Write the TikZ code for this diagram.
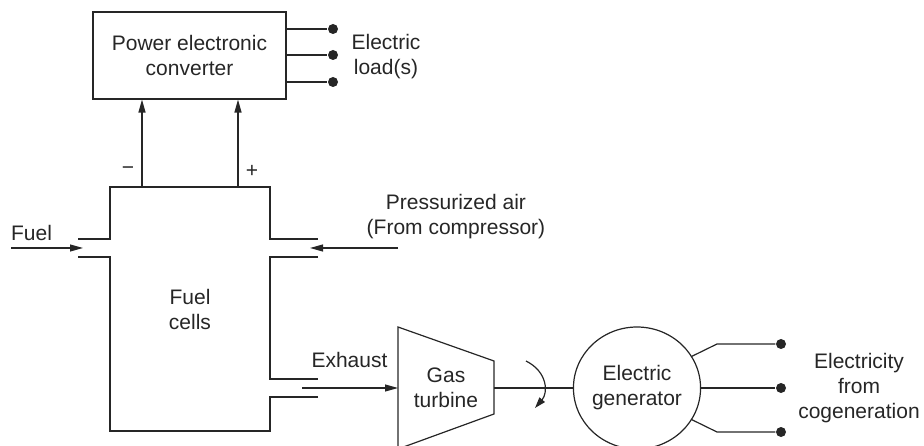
\documentclass[tikz,border=0pt]{standalone}
\usepackage{fontspec}
\setmainfont{Liberation Sans}
\usetikzlibrary{arrows.meta,shapes.geometric}

\begin{document}
\begin{tikzpicture}[x=1pt, y=-1pt, line width=1.2pt, color=black!85,
    every node/.style={font=\fontsize{21}{25}\selectfont, align=center},
    flow/.style={-{Triangle[length=13pt,width=7pt]}},
    term/.style={circle, fill=black!85, inner sep=0pt, minimum size=10pt}]
    \useasboundingbox (0,0) rectangle (924,446);

    % converter and loads
    \node (conv) [draw, rectangle, minimum width=193pt, minimum height=87pt] at (189.5,55.5) {Power electronic\\converter};
    \node (l1) [term] at (333,29) {};
    \node (l2) [term] at (333,55) {};
    \node (l3) [term] at (333,82) {};
    \draw (conv.east |- l1) -- (l1);
    \draw (conv.east |- l2) -- (l2);
    \draw (conv.east |- l3) -- (l3);
    \node (load) at (386,56.5) {Electric\\load(s)};

    % fuel cell stack with ports
    \draw (78,239) -- (110,239) -- (110,187) -- (270,187) -- (270,239) -- (318,239);
    \draw (318,257) -- (270,257) -- (270,379) -- (318,379);
    \draw (318,397) -- (270,397) -- (270,431) -- (110,431) -- (110,257) -- (78,257);
    \node (fc) at (190,309.5) {Fuel\\cells};

    \coordinate (neg) at (142,187);
    \coordinate (pos) at (238,187);
    \draw[flow] (neg) -- (neg |- conv.south);
    \draw[flow] (pos) -- (pos |- conv.south);
    \node (minus) at (128,171) {−};
    \node (plus) at (252,171) {+};

    \coordinate (fuelsrc) at (11,248);
    \coordinate (fuelin) at (83,248);
    \draw[flow] (fuelsrc) -- (fuelin);
    \node (fuel) at (31.5,233) {Fuel};

    \coordinate (airsrc) at (398,248);
    \coordinate (airin) at (310,248);
    \draw[flow] (airsrc) -- (airin);
    \node (air) at (456,216.5) {Pressurized air\\(From compressor)};

    % turbine and generator
    \draw (398,327) -- (494,361) -- (494,414) -- (398,449) -- cycle;
    \node (turb) at (446,387.5) {Gas\\turbine};
    \coordinate (exh) at (302,388);
    \coordinate (turbin) at (398,388);
    \draw[flow] (exh) -- (turbin);
    \node (exhaust) at (349.5,360) {Exhaust};

    \node (gen) [draw, ellipse, inner sep=0pt, minimum width=114pt, minimum height=122pt] at (637,388) {Electric\\generator};
    \coordinate (shaft) at (494,388);
    \draw (shaft) -- (gen.west);
    \coordinate (rota) at (526,361);
    \coordinate (rotb) at (535,408);
    \draw[-{Triangle[length=11pt,width=7pt]}] (rota) .. controls (548,372) and (548,393) .. (rotb);

    \node (g1) [term] at (781,344) {};
    \node (g2) [term] at (781,388) {};
    \node (g3) [term] at (781,432) {};
    \coordinate (k1) at (717,344);
    \coordinate (k3) at (717,432);
    \draw (gen.30) -- (k1) -- (g1);
    \draw (gen.east) -- (g2);
    \draw (gen.-30) -- (k3) -- (g3);
    \node (elec) at (859,388) {Electricity\\from\\cogeneration};
\end{tikzpicture}
\end{document}
